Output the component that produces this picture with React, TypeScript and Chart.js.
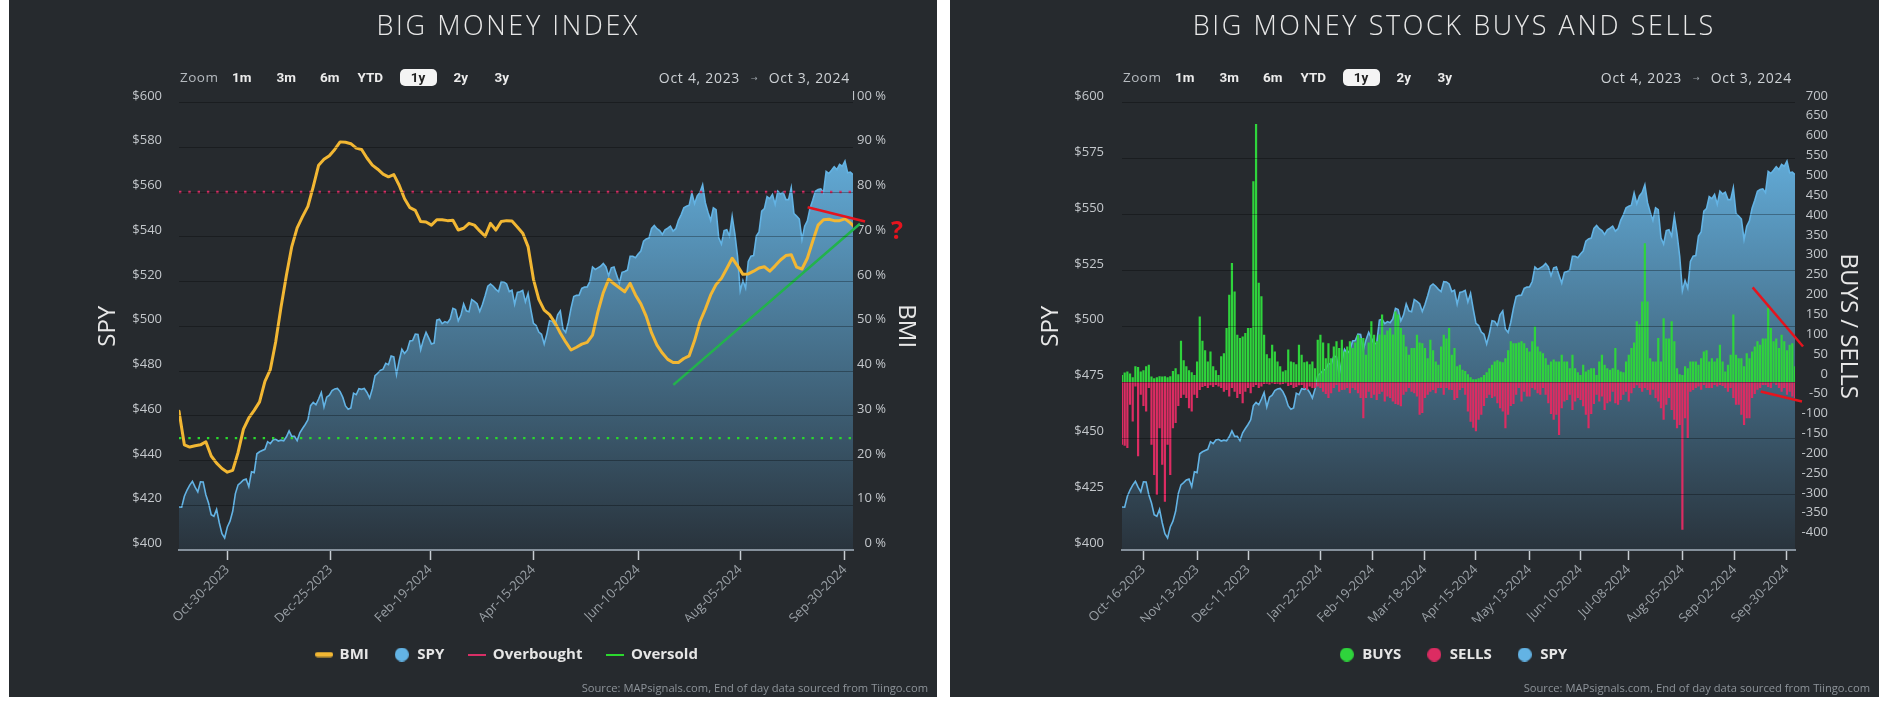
import React, { useEffect, useRef } from 'react';
import { Chart, registerables } from 'chart.js';

Chart.register(...registerables);

const FONT = '"Open Sans", "DejaVu Sans", sans-serif';
const BTN_FONT = 'Roboto, "Open Sans", sans-serif';
Chart.defaults.font.family = FONT;

// ---------- DATA (trading days Oct 4, 2023 .. Oct 3, 2024 -> index 0..251) ----------
const spyClose = [
  419.2, 419.1, 424.0, 426.8, 429.0, 430.7, 428.1, 426.0, 430.5, 430.4, 424.7, 421.0, 415.8, 415.1, 418.2, 412.2, 407.3, 405.4, 410.3, 412.9,
  417.3, 425.2, 429.1, 430.1, 431.3, 431.7, 428.3, 435.0, 434.6, 443.0, 443.9, 444.5, 445.0, 448.4, 447.5, 449.2, 449.5, 448.7, 449.1, 448.8, 450.6,
  453.2, 450.8, 450.8, 448.9, 452.4, 454.3, 456.1, 458.2, 464.5, 466.0, 464.9, 467.5, 470.4, 463.9, 468.3, 469.2, 471.2, 472.0, 472.2, 470.8,
  468.2, 464.4, 462.9, 463.5, 470.1, 469.4, 472.1, 471.8, 472.2, 470.4, 467.9, 472.0, 477.9, 479.0, 480.3, 480.8, 483.4, 482.8, 486.7, 486.3, 478.4,
  484.6, 489.7, 487.9, 489.3, 493.4, 493.6, 496.5, 496.3, 489.5, 493.9, 497.3, 494.8, 492.1, 492.5, 502.7, 503.1, 501.2, 502.1, 501.6, 503.3,
  508.0, 507.5, 502.4, 505.0, 510.0, 506.9, 506.5, 511.9, 511.1, 510.1, 506.6, 509.7, 513.6, 517.9, 518.9, 517.9, 516.5, 515.5, 519.9, 519.8,
  518.9, 515.5, 516.1, 509.9, 515.1, 515.4, 516.0, 510.9, 514.7, 507.7, 501.3, 500.3, 497.4, 496.4, 492.1, 496.6, 502.5, 502.2, 500.3, 505.1, 506.9, 498.8,
  497.2, 501.8, 508.1, 513.3, 513.8, 513.9, 516.9, 517.5, 517.6, 520.0, 526.5, 525.4, 526.1, 526.8, 528.1, 526.5, 522.6, 526.1, 526.5, 522.8, 519.3, 524.1,
  524.5, 525.1, 531.3, 531.3, 530.6, 532.3, 533.6, 538.0, 539.0, 539.4, 543.7, 545.0, 543.6, 542.8, 541.0, 543.1, 543.8, 544.7, 542.5,
  543.6, 547.3, 549.8, 552.9, 553.6, 554.1, 559.6, 554.8, 558.3, 559.8, 563.2, 555.2, 551.0, 547.3, 552.9, 552.1, 539.5, 536.7, 542.7, 543.1, 540.3, 549.1,
  541.3, 531.3, 515.8, 520.5, 517.1, 529.0, 531.3, 531.6, 540.3, 542.1, 551.4, 552.6, 557.9, 557.0, 558.9, 554.5, 560.4, 559.1, 559.9, 556.6, 556.6, 561.9,
  550.4, 549.2, 547.9, 538.7, 544.7, 547.1, 552.7, 556.3, 560.3, 561.1, 561.4, 559.7, 569.2, 568.3, 569.7, 571.3, 570.0, 572.3, 571.5, 573.8,
  568.6, 568.9, 567.8,
];

// BMI (%), sampled every 2nd trading day (last value at the final day)
const bmiValues = [
  31.0, 23.5, 23.0, 23.3, 23.5, 24.2, 21.0, 19.4, 18.2, 17.4,
  17.8, 21.8, 27.0, 29.5, 31.2, 33.1, 37.7, 40.3, 46.5, 54.3,
  61.4, 67.8, 72.0, 74.5, 76.8, 81.2, 86.0, 87.3, 88.1, 89.5,
  91.2, 91.1, 90.8, 89.8, 89.5, 87.6, 86.0, 85.1, 84.0, 83.4,
  83.9, 81.5, 78.5, 76.5, 75.9, 73.4, 73.3, 72.6, 73.8, 73.8,
  73.6, 73.7, 71.5, 71.9, 73.0, 72.6, 71.3, 70.1, 73.0, 71.5,
  73.4, 73.6, 73.5, 72.2, 70.8, 67.8, 60.5, 56.0, 53.6, 52.6,
  50.8, 48.5, 46.5, 44.7, 45.3, 46.0, 46.4, 48.0, 53.2, 57.5,
  60.5, 59.5, 58.6, 57.7, 59.6, 57.0, 55.0, 52.2, 48.5, 45.8,
  44.0, 42.6, 41.9, 41.9, 42.8, 43.4, 46.8, 51.0, 53.8, 57.0,
  59.3, 60.7, 62.9, 65.2, 63.5, 61.6, 61.7, 62.3, 63.0, 63.3,
  62.3, 63.5, 64.8, 65.8, 66.0, 63.2, 62.8, 65.2, 69.0, 72.6,
  73.8, 73.9, 73.6, 73.6, 74.0, 73.1, 72.5,
];

const buys = [
  18, 24, 27, 22, 12, 40, 38, 27, 30, 40,
  44, 14, 10, 12, 15, 14, 15, 12, 15, 28,
  35, 20, 104, 55, 40, 30, 25, 18, 52, 165,
  104, 80, 52, 77, 40, 30, 18, 65, 73, 136,
  220, 300, 228, 119, 111, 115, 124, 136, 136, 506,
  650, 250, 216, 119, 70, 60, 94, 77, 52, 40,
  27, 30, 82, 52, 50, 45, 94, 69, 50, 52,
  45, 52, 35, 107, 119, 100, 60, 98, 60, 90,
  103, 86, 107, 77, 90, 103, 86, 100, 119, 111,
  111, 69, 100, 153, 119, 103, 120, 170, 119, 130,
  136, 120, 178, 170, 136, 119, 90, 69, 86, 86,
  119, 100, 98, 86, 60, 107, 80, 52, 44, 90,
  119, 110, 136, 69, 86, 40, 44, 31, 28, 20,
  12, 7, 7, 10, 12, 18, 25, 35, 44, 52,
  55, 52, 50, 60, 80, 103, 98, 98, 100, 103,
  98, 86, 77, 103, 140, 90, 77, 73, 60, 44,
  52, 57, 52, 52, 69, 52, 52, 35, 69, 35,
  25, 18, 44, 27, 31, 35, 35, 18, 52, 69,
  44, 35, 31, 35, 86, 31, 27, 25, 52, 69,
  86, 100, 153, 145, 203, 350, 203, 60, 52, 52,
  111, 52, 161, 110, 110, 153, 103, 35, 20, 18,
  40, 35, 52, 52, 52, 44, 60, 77, 80, 52,
  60, 52, 60, 94, 52, 27, 44, 69, 170, 69,
  60, 60, 40, 73, 60, 77, 90, 103, 94, 110,
  110, 187, 136, 103, 110, 86, 119, 103, 80, 94,
  98, 40,
];

const sells = [
  -158, -160, -166, -57, -99, -11, -187, -32, -60, -74,
  -15, -158, -234, -284, -116, -208, -301, -158, -234, -116,
  -103, -60, -40, -32, -40, -66, -74, -32, -40, -20,
  -12, -10, -15, -8, -12, -7, -11, -15, -24, -20,
  -36, -15, -24, -40, -30, -53, -24, -15, -28, -12,
  -7, -15, -11, -5, -4, -6, -3, -5, -4, -6,
  -5, -3, -10, -7, -15, -12, -8, -7, -15, -19,
  -11, -15, -15, -11, -15, -24, -30, -40, -28, -15,
  -7, -24, -20, -19, -15, -28, -15, -20, -28, -40,
  -91, -40, -24, -40, -32, -45, -30, -24, -49, -36,
  -40, -49, -55, -57, -61, -32, -24, -15, -24, -28,
  -36, -82, -78, -40, -32, -24, -20, -28, -15, -15,
  -32, -15, -19, -20, -45, -40, -20, -15, -32, -74,
  -100, -115, -124, -95, -82, -60, -40, -32, -40, -36,
  -53, -66, -74, -116, -82, -60, -55, -32, -15, -49,
  -24, -36, -36, -15, -19, -28, -32, -15, -32, -53,
  -80, -95, -82, -133, -66, -49, -45, -32, -70, -49,
  -40, -45, -61, -82, -116, -80, -55, -32, -49, -36,
  -70, -53, -49, -24, -53, -57, -45, -32, -24, -49,
  -28, -15, -8, -15, -24, -15, -20, -32, -19, -40,
  -49, -66, -95, -57, -40, -70, -95, -116, -108, -372,
  -91, -141, -24, -20, -15, -11, -19, -7, -15, -15,
  -15, -7, -11, -7, -10, -15, -24, -15, -40, -57,
  -57, -82, -108, -91, -91, -40, -30, -19, -15, -7,
  -7, -12, -15, -3, -7, -15, -24, -15, -32, -24,
  -36, -40,
];

const overboughtLevel = 80;
const oversoldLevel = 25;

const bmiTickPos = [18, 56.5, 93.5, 132, 171, 209, 248];
const bmiTickLabels = ['Oct-30-2023', 'Dec-25-2023', 'Feb-19-2024', 'Apr-15-2024', 'Jun-10-2024', 'Aug-05-2024', 'Sep-30-2024'];
const flowTickPos = [8, 28, 47, 74, 93.5, 113, 132, 152, 171, 189, 209, 228.5, 248];
const flowTickLabels = ['Oct-16-2023', 'Nov-13-2023', 'Dec-11-2023', 'Jan-22-2024', 'Feb-19-2024', 'Mar-18-2024', 'Apr-15-2024',
  'May-13-2024', 'Jun-10-2024', 'Jul-08-2024', 'Aug-05-2024', 'Sep-02-2024', 'Sep-30-2024'];
const buysSellsTicks = [700, 650, 600, 550, 500, 450, 400, 350, 300, 250, 200, 150, 100, 50, 0,
  -50, -100, -150, -200, -250, -300, -350, -400];

// hand-drawn annotations
const bmiRedTrendX = [234.1, 255.5];
const bmiRedTrendY = [76.6, 73.4];
const bmiGreenTrendX = [184.1, 253.6];
const bmiGreenTrendY = [36.9, 72.9];
const bmiQuestionX = 267.4;
const bmiQuestionY = 71.1;
const flowUpperTrendX = [235.2, 254.0];
const flowUpperTrendY = [238.5, 89.8];
const flowLowerTrendX = [238.2, 253.6];
const flowLowerTrendY = [-23.7, -48.9];

// ---------- styles ----------
const PANEL = '#262a2e';
const C = {
  bmi: '#f2b733',
  spy: '#63b3e4',
  overbought: '#d82f66',
  oversold: '#2bd82e',
  buys: '#2fd43c',
  sells: '#dc2c62',
  annotRed: '#e5141e',
  annotGreen: '#22b34c',
  title: '#e8e8e8',
  axis: '#c3c7cb',
  xlab: '#9aa0a6',
  legend: '#e6e6e6',
};

const lastIdx = spyClose.length - 1;
const toPts = (ys: number[], xs?: number[]) => ys.map((y, i) => ({ x: xs ? xs[i] : i, y }));

function spyFill(c: any) {
  const chart = c.chart;
  const area = chart.chartArea;
  if (!area) return 'rgba(0,0,0,0)';
  const top = chart.scales.ySpy.getPixelForValue(Math.max(...spyClose));
  const g = chart.ctx.createLinearGradient(0, top, 0, area.bottom);
  g.addColorStop(0, 'rgb(97,169,213)');
  g.addColorStop(1, 'rgb(41,51,60)');
  return g;
}

function makeSymbol(kind: 'bar' | 'circle' | 'line', color: string) {
  const cv = document.createElement('canvas');
  const ctx = cv.getContext('2d')!;
  if (kind === 'bar') {
    cv.width = 18; cv.height = 6;
    ctx.fillStyle = color;
    ctx.beginPath();
    (ctx as any).roundRect(0, 0.5, 18, 5, 2.5);
    ctx.fill();
  } else if (kind === 'line') {
    cv.width = 18; cv.height = 2;
    ctx.fillStyle = color;
    ctx.fillRect(0, 0, 18, 2);
  } else {
    cv.width = 14; cv.height = 14;
    ctx.fillStyle = color;
    ctx.beginPath();
    ctx.arc(7, 7, 7, 0, Math.PI * 2);
    ctx.fill();
  }
  return cv;
}

function xScale(pos: number[], labels: string[], height: number) {
  return {
    type: 'linear', min: 0, max: lastIdx, offset: false,
    afterBuildTicks: (s: any) => { s.ticks = pos.map((v) => ({ value: v })); },
    afterFit: (s: any) => { s.height = height; },
    grid: { display: true, drawOnChartArea: false, drawTicks: true, tickLength: 10, tickWidth: 1.5, tickColor: '#c8cdd2', offset: false },
    border: { display: true, color: '#85909b', width: 2, z: 2 },
    ticks: {
      autoSkip: false, minRotation: 45, maxRotation: 45, padding: 2, color: C.xlab,
      font: { family: FONT, size: 13 }, callback: (_v: any, i: number) => labels[i],
    },
  };
}

function spyScale(step: number, width: number, pad: number, titlePad: number) {
  return {
    type: 'linear', position: 'left', min: 400, max: 600,
    ticks: { stepSize: step, padding: pad, labelOffset: -6.5, color: C.axis, font: { family: FONT, size: 13 }, callback: (v: any) => '$' + v },
    grid: { color: 'rgba(0,0,0,0.3)', lineWidth: 1, drawTicks: false, z: 1 },
    border: { display: false },
    title: { display: true, text: 'SPY', color: C.title, font: { family: FONT, size: 24, lineHeight: 1.2 }, padding: { top: titlePad, bottom: 0 } },
    afterFit: (s: any) => { s.width = width; },
  };
}

function titleAxis(text: string, width: number, titlePad: number) {
  return {
    type: 'linear', position: 'right', display: true, min: 0, max: 1,
    ticks: { display: false }, grid: { display: false, drawTicks: false }, border: { display: false },
    title: { display: true, text, color: C.title, font: { family: FONT, size: 24, lineHeight: 1.2 }, padding: { top: titlePad, bottom: 0 } },
    afterFit: (s: any) => { s.width = width; },
  };
}

const LEGEND_PAD = 25;
const LEGEND_FONT = 15;

function legendOpts(items: { text: string; sym: HTMLCanvasElement; color: string }[]) {
  return {
    display: true, position: 'bottom', align: 'center',
    labels: {
      usePointStyle: true, pointStyleWidth: 16, boxHeight: 14, padding: LEGEND_PAD,
      font: { family: FONT, size: LEGEND_FONT, weight: 'bold' }, color: C.legend,
      generateLabels: () => items.map((it, i) => ({
        text: it.text, pointStyle: it.sym, fillStyle: it.color, strokeStyle: it.color,
        lineWidth: 0, hidden: false, datasetIndex: i, fontColor: C.legend,
      })),
    },
  };
}

const PLOT_TOP = 102.5;
const BOTTOM_PAD = 25;
// canvas 697 tall, plot bottom at 550; legend box = font + padding + 10
const X_AXIS_H = 697 - BOTTOM_PAD - (LEGEND_FONT + LEGEND_PAD + 10) - 550;

// ---------- charts ----------
function BmiChart() {
  const ref = useRef<HTMLCanvasElement>(null);
  useEffect(() => {
    const qPlugin = {
      id: 'qmark',
      afterDatasetsDraw(chart: any) {
        const { ctx, scales } = chart;
        const x = scales.x.getPixelForValue(bmiQuestionX);
        const y = scales.yBmi.getPixelForValue(bmiQuestionY);
        ctx.save();
        ctx.font = `bold 25px ${FONT}`;
        ctx.fillStyle = C.annotRed;
        ctx.textAlign = 'center';
        ctx.textBaseline = 'middle';
        ctx.fillText('?', x, y);
        ctx.restore();
      },
    };
    const chart = new Chart(ref.current!, {
      type: 'line',
      data: {
        datasets: [
          { label: 'BMI', data: bmiValues.map((v, i) => ({ x: Math.min(i * 2, lastIdx), y: v })), yAxisID: 'yBmi',
            borderColor: C.bmi, borderWidth: 3, pointRadius: 0, fill: false, order: 1, borderJoinStyle: 'round', borderCapStyle: 'round' },
          { label: 'SPY', data: toPts(spyClose), yAxisID: 'ySpy', borderColor: C.spy, borderWidth: 1.6, pointRadius: 0,
            fill: 'start', backgroundColor: spyFill, order: 3 },
          { label: 'Overbought', data: [{ x: 0, y: overboughtLevel }, { x: lastIdx, y: overboughtLevel }], yAxisID: 'yBmi',
            borderColor: C.overbought, borderWidth: 2.4, borderDash: [2.4, 6.9], pointRadius: 0, fill: false, order: 2 },
          { label: 'Oversold', data: [{ x: 0, y: oversoldLevel }, { x: lastIdx, y: oversoldLevel }], yAxisID: 'yBmi',
            borderColor: C.oversold, borderWidth: 2.4, borderDash: [2.4, 6.9], pointRadius: 0, fill: false, order: 2 },
          { label: 'trendRed', data: toPts(bmiRedTrendY, bmiRedTrendX), yAxisID: 'yBmi', borderColor: C.annotRed,
            borderWidth: 2.5, pointRadius: 0, fill: false, clip: false, order: 0 },
          { label: 'trendGreen', data: toPts(bmiGreenTrendY, bmiGreenTrendX), yAxisID: 'yBmi', borderColor: C.annotGreen,
            borderWidth: 2.5, pointRadius: 0, fill: false, clip: false, order: 0 },
        ],
      },
      options: {
        responsive: false, animation: false, events: [],
        layout: { padding: { top: PLOT_TOP, left: 0, right: 0, bottom: BOTTOM_PAD } },
        scales: {
          x: xScale(bmiTickPos, bmiTickLabels, X_AXIS_H),
          ySpy: spyScale(20, 101, 17, 16.1),
          yBmi: {
            type: 'linear', position: 'right', min: 0, max: 100,
            ticks: { stepSize: 10, crossAlign: 'far', labelOffset: -6.5, color: C.axis, font: { family: FONT, size: 13 }, callback: (v: any) => v + ' %' },
            grid: { display: false, drawTicks: false }, border: { display: false },
            afterFit: (s: any) => { s.width = 33; },
          },
          yBmiTitle: titleAxis('BMI', 50, 15.8),
        },
        plugins: {
          title: { display: false },
          legend: legendOpts([
            { text: 'BMI', sym: makeSymbol('bar', C.bmi), color: C.bmi },
            { text: 'SPY', sym: makeSymbol('circle', C.spy), color: C.spy },
            { text: 'Overbought', sym: makeSymbol('line', C.overbought), color: C.overbought },
            { text: 'Oversold', sym: makeSymbol('line', C.oversold), color: C.oversold },
          ]),
          tooltip: { enabled: false },
        },
      } as any,
      plugins: [qPlugin],
    } as any);
    return () => chart.destroy();
  }, []);
  return <canvas ref={ref} width={858} height={697} style={{ position: 'absolute', left: 69, top: 0, width: 858, height: 697 }} />;
}

function FlowChart() {
  const ref = useRef<HTMLCanvasElement>(null);
  useEffect(() => {
    const chart = new Chart(ref.current!, {
      type: 'line',
      data: {
        datasets: [
          { type: 'bar', label: 'BUYS', data: toPts(buys), yAxisID: 'yBuys', backgroundColor: C.buys, borderWidth: 0,
            grouped: false, barPercentage: 0.82, categoryPercentage: 1, order: 1 },
          { type: 'bar', label: 'SELLS', data: toPts(sells), yAxisID: 'yBuys', backgroundColor: C.sells, borderWidth: 0,
            grouped: false, barPercentage: 0.82, categoryPercentage: 1, order: 1 },
          { type: 'line', label: 'SPY', data: toPts(spyClose), yAxisID: 'ySpy', borderColor: C.spy, borderWidth: 1.6,
            pointRadius: 0, fill: 'start', backgroundColor: spyFill, order: 2 },
          { type: 'line', label: 'upper', data: toPts(flowUpperTrendY, flowUpperTrendX), yAxisID: 'yBuys', borderColor: C.annotRed,
            borderWidth: 2.5, pointRadius: 0, fill: false, clip: false, order: 0 },
          { type: 'line', label: 'lower', data: toPts(flowLowerTrendY, flowLowerTrendX), yAxisID: 'yBuys', borderColor: C.annotRed,
            borderWidth: 2.5, pointRadius: 0, fill: false, clip: false, order: 0 },
        ],
      },
      options: {
        responsive: false, animation: false, events: [],
        layout: { padding: { top: PLOT_TOP, left: 0, right: 0, bottom: BOTTOM_PAD } },
        scales: {
          x: xScale(flowTickPos, flowTickLabels, X_AXIS_H),
          ySpy: spyScale(25, 93, 18, 7.4),
          yBuys: {
            type: 'linear', position: 'right', min: -422.8, max: 704.2,
            afterBuildTicks: (s: any) => { s.ticks = buysSellsTicks.map((v) => ({ value: v })); },
            ticks: { crossAlign: 'far', labelOffset: -8.3, color: C.axis, font: { family: FONT, size: 13 }, callback: (v: any) => String(v) },
            grid: { display: false, drawTicks: false }, border: { display: false },
            afterFit: (s: any) => { s.width = 33; },
          },
          yBuysTitle: titleAxis('BUYS / SELLS', 49, 14.8),
        },
        plugins: {
          title: { display: false },
          legend: legendOpts([
            { text: 'BUYS', sym: makeSymbol('circle', C.buys), color: C.buys },
            { text: 'SELLS', sym: makeSymbol('circle', C.sells), color: C.sells },
            { text: 'SPY', sym: makeSymbol('circle', C.spy), color: C.spy },
          ]),
          tooltip: { enabled: false },
        },
      } as any,
    } as any);
    return () => chart.destroy();
  }, []);
  return <canvas ref={ref} width={848} height={697} style={{ position: 'absolute', left: 79, top: 0, width: 848, height: 697 }} />;
}

// ---------- chrome (title, range selector, source) ----------
function PanelTitle({ text, center }: { text: string; center: number }) {
  return (
    <div style={{ position: 'absolute', left: center - 400, width: 800, top: 9, height: 32, lineHeight: '32px', textAlign: 'center',
      fontFamily: FONT, fontWeight: 300, fontSize: 27, letterSpacing: '2.6px', paddingLeft: 2.6, boxSizing: 'border-box',
      color: C.title, whiteSpace: 'nowrap' }}>
      {text}
    </div>
  );
}

function ZoomBar({ plotLeft, plotRight, panelWidth }: { plotLeft: number; plotRight: number; panelWidth: number }) {
  const btns: [string, number][] = [['1m', 53], ['3m', 97.5], ['6m', 141], ['YTD', 178.5], ['2y', 274.5], ['3y', 315.5]];
  const base: React.CSSProperties = { position: 'absolute', top: 69, height: 17, lineHeight: '17px', fontSize: 13.5, whiteSpace: 'nowrap' };
  return (
    <>
      <span style={{ ...base, left: plotLeft + 1, color: '#b6bbc0', fontFamily: FONT, letterSpacing: '0.5px' }}>Zoom</span>
      {btns.map(([t, dx]) => (
        <span key={t} style={{ ...base, left: plotLeft + dx, color: '#ececec', fontWeight: 700, fontFamily: BTN_FONT }}>{t}</span>
      ))}
      <span style={{ ...base, left: plotLeft + 220.5, width: 37, borderRadius: 5, background: '#f4f4f4', color: '#222',
        textAlign: 'center', fontWeight: 700, fontFamily: BTN_FONT }}>1y</span>
      <div style={{ ...base, right: panelWidth - plotRight + 3, display: 'flex', alignItems: 'center', color: '#cdd1d5',
        fontFamily: FONT, fontSize: 14, letterSpacing: '0.7px' }}>
        <span>Oct 4, 2023</span>
        <span style={{ margin: '0 11px', fontSize: 8, color: '#9aa0a6', letterSpacing: 0 }}>→</span>
        <span>Oct 3, 2024</span>
      </div>
    </>
  );
}

function Source({ right }: { right: number }) {
  return (
    <div style={{ position: 'absolute', right, top: 680, fontSize: 11.2, lineHeight: '15px', color: '#8d9399', fontFamily: FONT, whiteSpace: 'nowrap' }}>
      Source: MAPsignals.com, End of day data sourced from Tiingo.com
    </div>
  );
}

export default function App() {
  return (
    <div style={{ position: 'fixed', left: 0, top: 0, width: 1887, height: 707, background: '#ffffff', overflow: 'hidden' }}>
      <div style={{ position: 'absolute', left: 9, top: 0, width: 928, height: 697, background: PANEL }}>
        <BmiChart />
        <PanelTitle text="BIG MONEY INDEX" center={498} />
        <ZoomBar plotLeft={170} plotRight={844} panelWidth={928} />
        <Source right={9} />
      </div>
      <div style={{ position: 'absolute', left: 950, top: 0, width: 929, height: 697, background: PANEL }}>
        <FlowChart />
        <PanelTitle text="BIG MONEY STOCK BUYS AND SELLS" center={503} />
        <ZoomBar plotLeft={172} plotRight={845} panelWidth={929} />
        <Source right={9} />
      </div>
    </div>
  );
}
